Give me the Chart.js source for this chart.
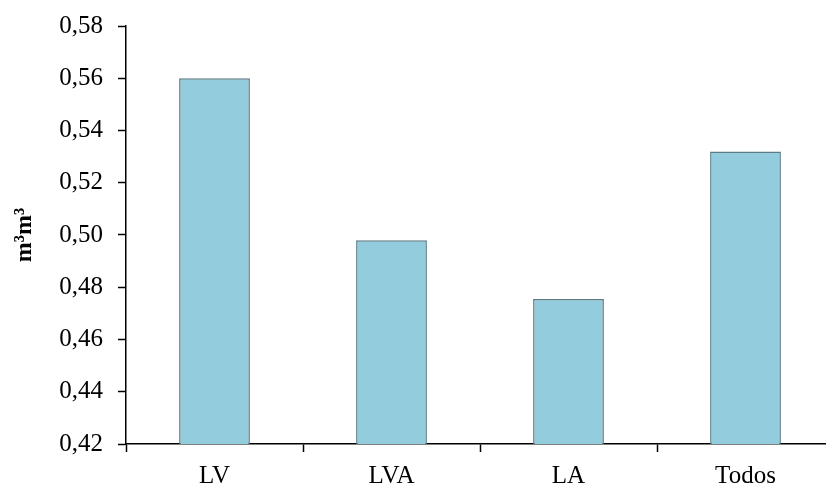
<!DOCTYPE html>
<html>
<head>
<meta charset="utf-8">
<script src="https://cdn.jsdelivr.net/npm/chart.js@4/dist/chart.umd.min.js"></script>
<style>
html, body { margin: 0; padding: 0; overflow: hidden; background: #fff; }
#wrap { width: 840px; height: 486px; position: relative; }
</style>
</head>
<body>
<div id="wrap"><canvas id="c"></canvas></div>
<script>
const categories = ["LV", "LVA", "LA", "Todos"];
const values = [0.560, 0.498, 0.4755, 0.532];
const yTickValues = [0.42, 0.44, 0.46, 0.48, 0.50, 0.52, 0.54, 0.56, 0.58];
const yTitle = "m\u00B3m\u00B3";

const font = "'Liberation Serif', 'Times New Roman', serif";

new Chart(document.getElementById('c'), {
  type: 'bar',
  data: {
    labels: categories,
    datasets: [{
      data: values,
      backgroundColor: '#93CDDD',
      borderColor: '#5a7a84',
      borderWidth: 1.5,
      categoryPercentage: 1.0,
      barPercentage: 0.4
    }]
  },
  options: {
    responsive: true,
    maintainAspectRatio: false,
    animation: false,
    layout: { padding: { top: 26, right: 6, left: 0, bottom: 0 } },
    plugins: { legend: { display: false }, tooltip: { enabled: false } },
    scales: {
      x: {
        offset: true,
        grid: { offset: true, drawOnChartArea: false, drawTicks: true, tickLength: 8, tickColor: '#000', tickWidth: 1.5 },
        border: { color: '#000', width: 1.5 },
        ticks: { color: '#000', font: { family: font, size: 25 }, padding: 9 },
        afterFit: s => { s.height = 42; s.paddingLeft = 0; s.paddingRight = 0; }
      },
      y: {
        min: yTickValues[0],
        max: yTickValues[yTickValues.length - 1],
        afterBuildTicks: s => { s.ticks = yTickValues.map(v => ({ value: v })); },
        grid: { drawOnChartArea: false, drawTicks: true, tickLength: 8, tickColor: '#000', tickWidth: 1.5 },
        border: { color: '#000', width: 1.5 },
        ticks: {
          color: '#000', font: { family: font, size: 25 }, padding: 15,
          callback: v => v.toFixed(2).replace('.', ',')
        },
        title: { display: true, text: yTitle, color: '#000', font: { family: font, size: 24, weight: 'bold' }, padding: { top: 10, bottom: 0 } },
        afterFit: s => { s.width = 126; s.paddingTop = 0; s.paddingBottom = 0; }
      }
    }
  }
});
</script>
</body>
</html>
